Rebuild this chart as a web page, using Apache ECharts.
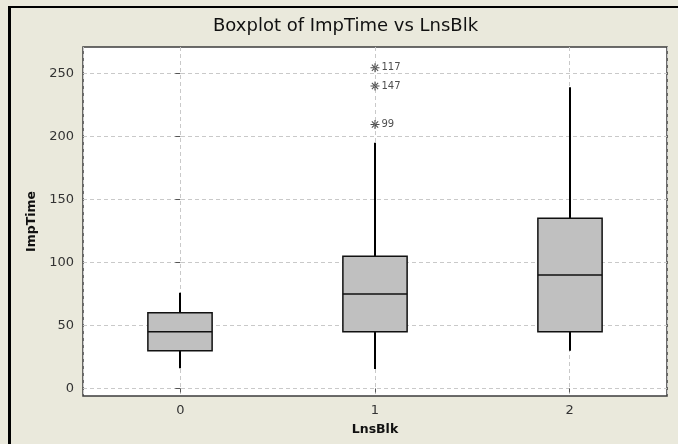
<!DOCTYPE html>
<html>
<head>
<meta charset="utf-8">
<script src="https://cdn.jsdelivr.net/npm/echarts@6/dist/echarts.min.js"></script>
<style>
html,body{margin:0;padding:0;background:#EAE9DC;}
#chart{width:678px;height:444px;}
</style>
</head>
<body>
<div id="chart"></div>
<script>
const categories = ['0', '1', '2'];
const boxMin = [16, 15.5, 30];
const boxQ1 = [30, 45, 45];
const boxMedian = [45, 75, 90];
const boxQ3 = [60, 105, 135];
const boxMax = [76, 195, 239];
const outlierCategory = ['1', '1', '1'];
const outlierValues = [254.5, 240, 209.5];
const outlierLabels = ['117', '147', '99'];
const yTicks = [0, 50, 100, 150, 200, 250];

const chart = echarts.init(document.getElementById('chart'));
const FONT = 'DejaVu Sans';
const boxData = categories.map((c, i) => [i, boxMin[i], boxQ1[i], boxMedian[i], boxQ3[i], boxMax[i]]);
const asterisk = 'path://M-0.6,-5 L0.6,-5 L0.6,5 L-0.6,5 Z M-5,-0.6 L5,-0.6 L5,0.6 L-5,0.6 Z M-3.9,-3.1 L-3.1,-3.9 L3.9,3.1 L3.1,3.9 Z M-3.9,3.1 L-3.1,3.9 L3.9,-3.1 L3.1,-3.9 Z';

const option = {
  backgroundColor: '#EAE9DC',
  animation: false,
  title: {
    text: 'Boxplot of ImpTime vs LnsBlk',
    left: 208,
    top: 12,
    textStyle: {fontFamily: FONT, fontSize: 18, fontWeight: 'normal', color: '#111'}
  },
  graphic: [
    {type: 'rect', left: 8, top: 6, shape: {width: 3, height: 438}, style: {fill: '#000'}},
    {type: 'rect', left: 8, top: 6, shape: {width: 670, height: 2}, style: {fill: '#000'}}
  ],
  grid: {
    left: 83, right: 11, top: 47, bottom: 48,
    show: true, backgroundColor: '#fff', borderColor: '#3c3c3c', borderWidth: 1.5,
    containLabel: false
  },
  xAxis: [
    {
      type: 'category',
      data: categories,
      name: 'LnsBlk',
      nameLocation: 'middle',
      nameGap: 27,
      nameTextStyle: {fontFamily: FONT, fontSize: 12.5, fontWeight: 'bold', color: '#111'},
      axisLine: {show: false},
      axisTick: {show: true, alignWithLabel: true, length: 4, lineStyle: {color: '#555'}},
      axisLabel: {fontFamily: FONT, fontSize: 13, color: '#333', margin: 8},
      splitLine: {show: false}
    },
    {
      type: 'value',
      min: -0.5, max: 2.5, splitNumber: 3,
      position: 'bottom',
      show: true,
      axisLine: {show: false}, axisTick: {show: false}, axisLabel: {show: false},
      splitLine: {show: true, lineStyle: {color: '#c9c9c9', type: [4, 3], width: 1}}
    }
  ],
  yAxis: {
    type: 'value',
    min: -6, max: 271,
    name: 'ImpTime',
    nameLocation: 'middle',
    nameGap: 45,
    nameTextStyle: {fontFamily: FONT, fontSize: 12.5, fontWeight: 'bold', color: '#111'},
    axisLine: {show: false},
    axisTick: {show: true, length: 5, customValues: yTicks, lineStyle: {color: '#555'}},
    axisLabel: {fontFamily: FONT, fontSize: 13, color: '#333', margin: 9, customValues: yTicks},
    splitLine: {show: true, lineStyle: {color: '#c9c9c9', type: [4, 3], width: 1}}
  },
  series: [
    {
      type: 'custom',
      xAxisIndex: 0,
      encode: {x: 0, y: [1, 2, 3, 4, 5]},
      data: boxData,
      z: 5,
      renderItem: function (params, api) {
        const x = api.value(0);
        const pMin = api.coord([x, api.value(1)]);
        const pQ1 = api.coord([x, api.value(2)]);
        const pMed = api.coord([x, api.value(3)]);
        const pQ3 = api.coord([x, api.value(4)]);
        const pMax = api.coord([x, api.value(5)]);
        const bw = api.size([1, 0])[0] * 0.33;
        const cx = Math.round(pMed[0]);
        const ls = {stroke: '#000', lineWidth: 2};
        return {
          type: 'group',
          children: [
            {type: 'line', shape: {x1: cx, y1: pMax[1], x2: cx, y2: pQ3[1]}, style: ls},
            {type: 'line', shape: {x1: cx, y1: pQ1[1], x2: cx, y2: pMin[1]}, style: ls},
            {type: 'rect', shape: {x: cx - bw / 2, y: pQ3[1], width: bw, height: pQ1[1] - pQ3[1]},
             style: {fill: '#c0c0c0', stroke: '#111', lineWidth: 1.5}},
            {type: 'line', shape: {x1: cx - bw / 2, y1: pMed[1], x2: cx + bw / 2, y2: pMed[1]}, style: {stroke: '#111', lineWidth: 1.5}}
          ]
        };
      }
    },
    {
      type: 'scatter',
      xAxisIndex: 0,
      symbol: asterisk,
      symbolSize: 9,
      itemStyle: {color: '#222'},
      z: 6,
      label: {
        show: true, position: 'right', distance: 2,
        fontFamily: FONT, fontSize: 10, color: '#222',
        formatter: p => outlierLabels[p.dataIndex]
      },
      data: outlierValues.map((v, i) => [outlierCategory[i], v])
    }
  ]
};
chart.setOption(option);
</script>
</body>
</html>
